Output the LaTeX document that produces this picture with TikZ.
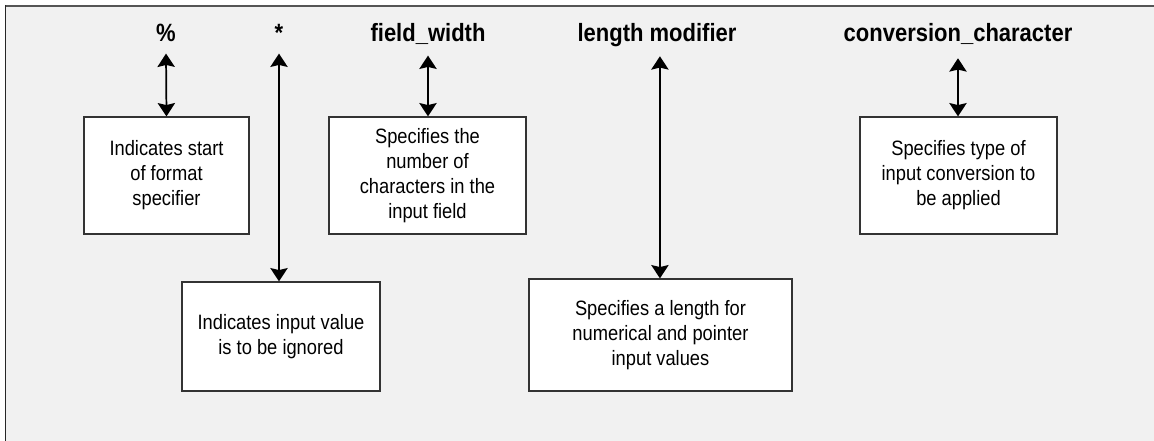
\documentclass[tikz,border=0pt]{standalone}
\usepackage{fontspec}
\setmainfont{Liberation Sans}[FakeStretch=0.88]
\usetikzlibrary{arrows.meta}
\definecolor{panel}{HTML}{F1F1F1}
\definecolor{framegray}{HTML}{555555}
\definecolor{boxline}{HTML}{333333}
\tikzset{
  title/.style={font=\fontsize{18.75pt}{22pt}\selectfont\bfseries, inner sep=0pt, text depth=0pt, anchor=base},
  infobox/.style={draw=boxline, line width=0.9pt, fill=white, align=center,
    font=\fontsize{15.6pt}{18.75pt}\selectfont, inner sep=0pt},
  arr/.style={line width=1.3pt, {Stealth[width=13pt,length=10pt,inset=1.5pt]}-{Stealth[width=13pt,length=10pt,inset=1.5pt]}}
}
\begin{document}
\begin{tikzpicture}[x=0.75pt,y=-0.75pt]
\useasboundingbox (0,0) rectangle (1154,441);
\fill[white] (0,0) rectangle (1154,441);
\fill[panel] (5.5,6) rectangle (1154,441);
\draw[framegray, line width=1.5pt] (5,6) -- (1154,6);
\draw[black!85, line width=1.1pt] (5.7,5) -- (5.7,441);

% titles
\node[title] (tpct) at (166,42) {\%};
\node[title] (tstar) at (279,42) {*};
\node[title] (tfw) at (428,42) {field\_width};
\node[title] (tlm) at (657,42) {length modifier};
\node[title] (tcc) at (958,42) {conversion\_character};

% boxes
\node[infobox, minimum width={165*0.75pt}, minimum height={117*0.75pt}] (bpct) at (166.5,175.5)
  {Indicates start\\of format\\specifier};
\node[infobox, minimum width={198*0.75pt}, minimum height={109*0.75pt}] (bstar) at (281,336.5)
  {Indicates input value\\is to be ignored};
\node[infobox, minimum width={197*0.75pt}, minimum height={117*0.75pt}] (bfw) at (427.5,175.5)
  {Specifies the\\number of\\characters in the\\input field};
\node[infobox, minimum width={263*0.75pt}, minimum height={112*0.75pt}] (blm) at (660.5,335)
  {Specifies a length for\\numerical and pointer\\input values};
\node[infobox, minimum width={197*0.75pt}, minimum height={117*0.75pt}] (bcc) at (958.5,175.5)
  {Specifies type of\\input conversion to\\be applied};

% connectors
\draw[arr] ([yshift=-8.5pt]tpct.south) -- (bpct.north);
\draw[arr] ([yshift=-8.5pt]tstar.south) -- (tstar.south |- bstar.north);
\draw[arr] ([yshift=-10pt]tfw.south) -- (tfw.south |- bfw.north);
\draw[arr] ([xshift=2.2pt,yshift=-10.5pt]tlm.south) -- ([xshift=2.2pt]tlm.south |- blm.north);
\draw[arr] ([yshift=-12pt]tcc.south) -- (tcc.south |- bcc.north);
\end{tikzpicture}
\end{document}
